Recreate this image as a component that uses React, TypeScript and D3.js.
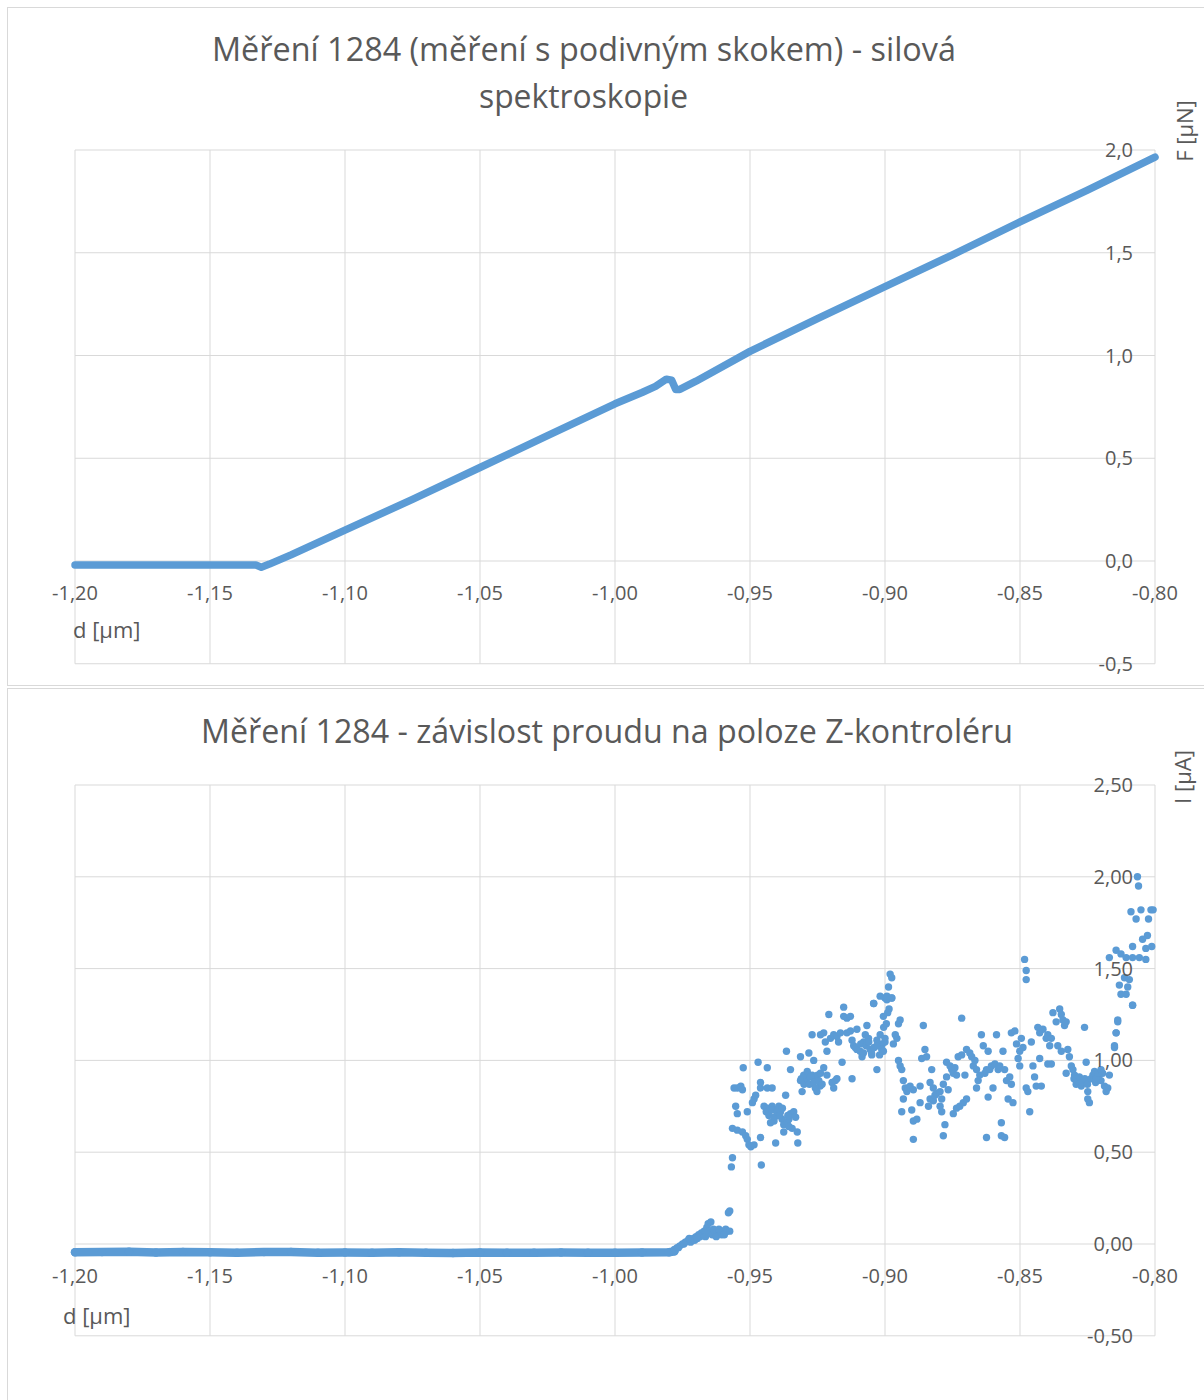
import React from "react";
import * as d3 from "d3";

// ---------- DATA ----------
const xTicks = [-1.2, -1.15, -1.1, -1.05, -1.0, -0.95, -0.9, -0.85, -0.8];
const forceTicks = [-0.5, 0, 0.5, 1.0, 1.5, 2.0];
const currentTicks = [-0.5, 0, 0.5, 1.0, 1.5, 2.0, 2.5];

// Force curve (F [µN] vs d [µm]) — vertices
const forceD = [-1.2, -1.17, -1.15, -1.133, -1.131, -1.128, -1.12, -1.1, -1.075, -1.05, -1.025, -1.0, -0.99, -0.985, -0.981, -0.979, -0.9775, -0.976, -0.97, -0.95, -0.925, -0.9, -0.875, -0.85, -0.825, -0.8];
const forceF = [-0.02, -0.02, -0.02, -0.02, -0.03, -0.015, 0.03, 0.15, 0.3, 0.455, 0.61, 0.765, 0.82, 0.85, 0.885, 0.88, 0.835, 0.835, 0.875, 1.02, 1.18, 1.335, 1.49, 1.65, 1.805, 1.965];

// Current (I [µA]) baseline before contact
const curFlatD = [-1.2, -1.19, -1.18, -1.17, -1.16, -1.15, -1.14, -1.13, -1.12, -1.11, -1.1, -1.09, -1.08, -1.07, -1.06, -1.05, -1.04, -1.03, -1.02, -1.01, -1.0, -0.99, -0.98, -0.978];
const curFlatI = [-0.045, -0.044, -0.042, -0.046, -0.043, -0.045, -0.048, -0.044, -0.043, -0.047, -0.046, -0.048, -0.045, -0.047, -0.049, -0.046, -0.048, -0.047, -0.046, -0.048, -0.047, -0.046, -0.045, -0.04];

// Current scatter after contact [d, I]
const curPoints: [number, number][] = [
  [-0.978, -0.03], [-0.977, -0.02], [-0.976, -0.01], [-0.975, 0.0], [-0.974, 0.01], [-0.973, 0.02], [-0.972, 0.01],
  [-0.971, 0.03], [-0.97, 0.04], [-0.969, 0.05], [-0.968, 0.06], [-0.967, 0.07], [-0.966, 0.09], [-0.9655, 0.11],
  [-0.965, 0.07], [-0.964, 0.05], [-0.963, 0.06], [-0.962, 0.05], [-0.961, 0.06], [-0.96, 0.07], [-0.959, 0.08],
  [-0.9585, 0.07], [-0.958, 0.17], [-0.9575, 0.18], [-0.9645, 0.12], [-0.9625, 0.04], [-0.9605, 0.05],
  [-0.9765, -0.02], [-0.9745, 0.0], [-0.9725, 0.03], [-0.9705, 0.02], [-0.9685, 0.04], [-0.9665, 0.06], [-0.9635, 0.08],
  [-0.9615, 0.08], [-0.9595, 0.05], [-0.9575, 0.07], [-0.9665, 0.04], [-0.9695, 0.03],
  [-0.9569, 0.42], [-0.9565, 0.47], [-0.9565, 0.63], [-0.9547, 0.62], [-0.9528, 0.61], [-0.9516, 0.59], [-0.951, 0.57],
  [-0.9504, 0.54], [-0.9497, 0.53], [-0.9485, 0.54], [-0.9559, 0.85], [-0.9547, 0.85], [-0.9534, 0.86], [-0.9528, 0.84],
  [-0.9525, 0.96], [-0.947, 0.99], [-0.9436, 0.96], [-0.9553, 0.75], [-0.9547, 0.71], [-0.951, 0.72], [-0.9491, 0.77],
  [-0.9485, 0.79], [-0.9479, 0.81], [-0.9461, 0.58], [-0.9458, 0.43], [-0.9405, 0.55], [-0.9461, 0.85], [-0.9436, 0.85],
  [-0.9418, 0.85], [-0.9461, 0.88], [-0.9448, 0.75], [-0.9436, 0.74], [-0.9418, 0.75], [-0.9405, 0.73], [-0.9393, 0.75],
  [-0.9387, 0.72], [-0.9399, 0.7], [-0.9411, 0.67], [-0.9424, 0.66], [-0.9381, 0.68], [-0.9375, 0.65], [-0.9362, 0.66],
  [-0.9356, 0.68], [-0.935, 0.71], [-0.9338, 0.72], [-0.9331, 0.69], [-0.9325, 0.61], [-0.9323, 0.55], [-0.9368, 0.81],
  [-0.9365, 1.05], [-0.935, 0.95], [-0.9344, 0.63], [-0.9356, 0.64], [-0.9375, 0.61], [-0.9313, 1.02], [-0.9282, 1.04],
  [-0.944, 0.72], [-0.943, 0.7], [-0.942, 0.73], [-0.941, 0.69], [-0.94, 0.72], [-0.939, 0.7], [-0.938, 0.74], [-0.936, 0.7],
  [-0.931, 0.9], [-0.93, 0.87], [-0.929, 0.9], [-0.928, 0.87], [-0.927, 0.92], [-0.926, 0.9], [-0.925, 0.92], [-0.924, 0.86],
  [-0.9264, 1.0], [-0.9313, 0.89], [-0.9307, 0.83], [-0.9301, 0.92], [-0.9288, 0.94], [-0.9276, 0.91], [-0.9264, 0.88],
  [-0.9258, 0.85], [-0.9252, 0.83], [-0.9245, 0.89], [-0.9239, 0.93], [-0.9227, 0.96], [-0.9233, 0.87], [-0.9215, 0.92],
  [-0.9196, 0.88], [-0.919, 0.85], [-0.9184, 0.89], [-0.9178, 0.9], [-0.9159, 0.99], [-0.9122, 0.9], [-0.927, 1.14],
  [-0.9239, 1.14], [-0.9227, 1.15], [-0.9208, 1.25], [-0.9221, 1.1], [-0.9215, 1.05], [-0.9202, 1.12], [-0.919, 1.14],
  [-0.9178, 1.13], [-0.9172, 1.1], [-0.9165, 1.15], [-0.9153, 1.29], [-0.9153, 1.24], [-0.9141, 1.23], [-0.9128, 1.24],
  [-0.9141, 1.15], [-0.9128, 1.16], [-0.9122, 1.11], [-0.9116, 1.08], [-0.9104, 1.17], [-0.9104, 1.06], [-0.9092, 1.05],
  [-0.9085, 1.02], [-0.9079, 1.1], [-0.9073, 1.14], [-0.9067, 1.19], [-0.9061, 1.12], [-0.9055, 1.06], [-0.9049, 1.03],
  [-0.911, 1.07], [-0.909, 1.09], [-0.908, 1.04], [-0.907, 1.08], [-0.906, 1.1], [-0.905, 1.04], [-0.904, 1.07],
  [-0.903, 1.11], [-0.902, 1.03], [-0.901, 1.09], [-0.9, 1.1], [-0.9, 1.12], [-0.9005, 1.18], [-0.8995, 1.2],
  [-0.899, 1.26], [-0.8985, 1.28],
  [-0.9042, 1.31], [-0.903, 0.95], [-0.903, 1.08], [-0.9018, 1.14], [-0.9012, 1.06], [-0.9006, 1.05], [-0.9006, 1.24],
  [-0.9, 1.34], [-0.8993, 1.33], [-0.8975, 1.34], [-0.8969, 1.09], [-0.8956, 1.12], [-0.895, 1.2], [-0.8944, 1.22],
  [-0.8962, 1.14], [-0.895, 1.0], [-0.8944, 0.97], [-0.8938, 0.95], [-0.8932, 0.89], [-0.8925, 0.85], [-0.8919, 0.83],
  [-0.8913, 0.85], [-0.8907, 0.86], [-0.8895, 0.84], [-0.8932, 0.79], [-0.8938, 0.72], [-0.8901, 0.73], [-0.8895, 0.67],
  [-0.8882, 0.68], [-0.8895, 0.57], [-0.887, 0.77], [-0.887, 0.86], [-0.8864, 1.01], [-0.8858, 1.19], [-0.8852, 1.06],
  [-0.8846, 1.02], [-0.8833, 0.88], [-0.8827, 0.95], [-0.8821, 0.85], [-0.8839, 0.75], [-0.8833, 0.79], [-0.8821, 0.78],
  [-0.8815, 0.81], [-0.8809, 0.82], [-0.8796, 0.83], [-0.879, 0.79], [-0.879, 0.72], [-0.8796, 0.75], [-0.8784, 0.59],
  [-0.8778, 0.65], [-0.8784, 0.87], [-0.8766, 0.84], [-0.8772, 0.91], [-0.8772, 0.99], [-0.8759, 0.97], [-0.8753, 0.95],
  [-0.8747, 0.93], [-0.8741, 0.96], [-0.8735, 0.92], [-0.8747, 0.71], [-0.8735, 0.74], [-0.8723, 0.75], [-0.871, 0.77],
  [-0.8698, 0.79], [-0.8716, 1.23], [-0.8729, 1.02], [-0.8716, 1.03], [-0.8704, 0.92], [-0.8698, 1.06], [-0.8686, 1.04],
  [-0.8679, 1.02], [-0.8673, 0.97], [-0.8667, 1.0], [-0.8661, 0.95], [-0.8661, 0.85], [-0.8655, 0.89], [-0.8649, 0.92],
  [-0.8643, 1.14], [-0.8636, 1.08], [-0.863, 0.93], [-0.8624, 0.95], [-0.8618, 0.8], [-0.8612, 0.95], [-0.8624, 0.58],
  [-0.8618, 1.05], [-0.8606, 0.97], [-0.86, 0.85], [-0.8593, 0.98], [-0.8587, 1.14], [-0.8581, 0.95], [-0.8575, 0.97],
  [-0.8569, 0.66], [-0.8569, 0.59], [-0.8557, 0.58], [-0.8563, 1.05], [-0.8557, 0.95], [-0.855, 0.89], [-0.8544, 0.79],
  [-0.8538, 0.91], [-0.8532, 0.87], [-0.8526, 0.77], [-0.8532, 1.15], [-0.8519, 1.16], [-0.8513, 1.09], [-0.8507, 1.01],
  [-0.8501, 1.05], [-0.8501, 0.97], [-0.8495, 1.12], [-0.8489, 1.07], [-0.8477, 0.85], [-0.8471, 0.83], [-0.8464, 0.72],
  [-0.8458, 1.1], [-0.8452, 0.97], [-0.8446, 0.91], [-0.844, 0.86], [-0.8427, 1.01], [-0.8421, 0.86], [-0.8434, 1.18],
  [-0.8427, 1.15], [-0.8415, 1.17], [-0.8403, 1.12], [-0.8397, 1.14], [-0.839, 1.08], [-0.8384, 1.12], [-0.8397, 0.98],
  [-0.8384, 0.98], [-0.8378, 1.26], [-0.8366, 1.21], [-0.8353, 1.28], [-0.8347, 1.25], [-0.8341, 1.22], [-0.8335, 1.19],
  [-0.8329, 1.21], [-0.836, 1.08], [-0.8347, 1.05], [-0.8329, 0.93], [-0.8323, 1.06], [-0.8317, 1.02], [-0.831, 0.97],
  [-0.8304, 0.95], [-0.8298, 0.92], [-0.8292, 0.87], [-0.8286, 0.89], [-0.8273, 0.86], [-0.8261, 1.18], [-0.8255, 0.99],
  [-0.83, 0.9], [-0.828, 0.91], [-0.827, 0.88], [-0.826, 0.9], [-0.825, 0.87], [-0.822, 0.88], [-0.821, 0.91], [-0.82, 0.89],
  [-0.8249, 0.83], [-0.8249, 0.79], [-0.8243, 0.77], [-0.8237, 0.9], [-0.823, 0.92], [-0.8224, 0.94], [-0.8218, 0.9],
  [-0.8212, 0.93], [-0.82, 0.95], [-0.8194, 0.93], [-0.8187, 0.86], [-0.8181, 0.83], [-0.8175, 0.85], [-0.8169, 0.92],
  [-0.815, 1.07], [-0.8144, 1.15], [-0.8138, 1.22], [-0.8083, 1.3],
  [-0.8981, 1.47], [-0.8975, 1.45], [-0.8987, 1.4], [-0.8993, 1.35], [-0.9018, 1.35], [-0.8975, 1.34], [-0.9042, 1.31],
  [-0.8483, 1.55], [-0.8477, 1.49], [-0.8477, 1.44],
  [-0.8065, 2.0], [-0.8061, 1.95], [-0.8089, 1.81], [-0.807, 1.77], [-0.8052, 1.82], [-0.8024, 1.77], [-0.8015, 1.82],
  [-0.8007, 1.82], [-0.8028, 1.68], [-0.8046, 1.66], [-0.8083, 1.62], [-0.8034, 1.61], [-0.8012, 1.62], [-0.8169, 1.56],
  [-0.8144, 1.6], [-0.8126, 1.58], [-0.8107, 1.56], [-0.8083, 1.56], [-0.8058, 1.56], [-0.8034, 1.55], [-0.8132, 1.41],
  [-0.8113, 1.45], [-0.8095, 1.44], [-0.8101, 1.4], [-0.8126, 1.36], [-0.8107, 1.36], [-0.8083, 1.3], [-0.8138, 1.21],
  [-0.8144, 1.15], [-0.815, 1.08],
];

// ---------- STYLE ----------
const BLUE = "#5b9bd5";
const GRID = "#d9d9d9";
const TEXT = "#595959";
const FONT = "'Open Sans', 'Noto Sans', sans-serif";

const locale = d3.formatLocale({ decimal: ",", thousands: " ", grouping: [3], currency: ["", ""], minus: "-" });
const fmt2 = locale.format(".2f");
const fmt1 = locale.format(".1f");

const L = 75, R = 1155;
const x = d3.scaleLinear().domain([-1.2, -0.8]).range([L, R]);
const yF = d3.scaleLinear().domain([-0.5, 2.0]).range([663.75, 150]);
const yI = d3.scaleLinear().domain([-0.5, 2.5]).range([1335.8, 785]);

function Grid({ y, ticks }: { y: d3.ScaleLinear<number, number>; ticks: number[] }) {
  const [y0, y1] = [y(ticks[0]), y(ticks[ticks.length - 1])];
  return (
    <g>
      {ticks.map((t) => (
        <line key={"h" + t} x1={L} x2={R} y1={y(t)} y2={y(t)} stroke={GRID} strokeWidth={1} />
      ))}
      {xTicks.map((t) => (
        <line key={"v" + t} x1={x(t)} x2={x(t)} y1={y0} y2={y1} stroke={GRID} strokeWidth={1} />
      ))}
    </g>
  );
}

function Labels({ y, ticks, f }: { y: d3.ScaleLinear<number, number>; ticks: number[]; f: (n: number) => string }) {
  const base = y(0) + 39;
  return (
    <g fill={TEXT} fontFamily={FONT} fontSize={20}>
      {xTicks.map((t) => (
        <text key={"x" + t} x={x(t)} y={base} textAnchor="middle">{fmt2(t)}</text>
      ))}
      {ticks.map((t) => (
        <text key={"y" + t} x={1133} y={y(t) + 7} textAnchor="end">{f(t)}</text>
      ))}
    </g>
  );
}

export default function App() {
  const forceLine = d3.line<number>().x((_, i) => x(forceD[i])).y((d) => yF(d));
  const flatLine = d3.line<number>().x((_, i) => x(curFlatD[i])).y((d) => yI(d));
  return (
    <svg width={1204} height={1400} style={{ position: "absolute", left: 0, top: 0, background: "#fff" }}>
      <rect x={0} y={0} width={1204} height={1400} fill="#fff" />
      {/* frames */}
      <rect x={7.5} y={7.5} width={1210} height={678} fill="none" stroke={GRID} />
      <rect x={7.5} y={688.5} width={1210} height={730} fill="none" stroke={GRID} />

      {/* ---- Top chart ---- */}
      <g fill={TEXT} fontFamily={FONT} fontSize={33}>
        <text x={584} y={61} textAnchor="middle" textLength={744} lengthAdjust="spacingAndGlyphs">
          Měření 1284 (měření s podivným skokem) - silová
        </text>
        <text x={583.5} y={108} textAnchor="middle" textLength={209} lengthAdjust="spacingAndGlyphs">
          spektroskopie
        </text>
      </g>
      <Grid y={yF} ticks={forceTicks} />
      <path d={forceLine(forceF) || ""} fill="none" stroke={BLUE} strokeWidth={7.5} strokeLinejoin="round" strokeLinecap="round" />
      <Labels y={yF} ticks={forceTicks} f={fmt1} />
      <text x={73} y={638} fill={TEXT} fontFamily={FONT} fontSize={22}>d [µm]</text>
      <text transform="translate(1193,131) rotate(-90)" textAnchor="middle" fill={TEXT} fontFamily={FONT} fontSize={22}>F [µN]</text>

      {/* ---- Bottom chart ---- */}
      <text x={607} y={743} textAnchor="middle" fill={TEXT} fontFamily={FONT} fontSize={33} textLength={812} lengthAdjust="spacingAndGlyphs">
        Měření 1284 - závislost proudu na poloze Z-kontroléru
      </text>
      <Grid y={yI} ticks={currentTicks} />
      <path d={flatLine(curFlatI) || ""} fill="none" stroke={BLUE} strokeWidth={8.5} strokeLinejoin="round" strokeLinecap="round" />
      {curFlatI.map((v, i) => (
        <circle key={"f" + i} cx={x(curFlatD[i])} cy={yI(v)} r={4.2} fill={BLUE} />
      ))}
      {curPoints.map(([d, v], i) => (
        <circle key={"p" + i} cx={x(d)} cy={yI(v)} r={3.7} fill={BLUE} />
      ))}
      <Labels y={yI} ticks={currentTicks} f={fmt2} />
      <text x={63} y={1324} fill={TEXT} fontFamily={FONT} fontSize={22}>d [µm]</text>
      <text transform="translate(1191,777) rotate(-90)" textAnchor="middle" fill={TEXT} fontFamily={FONT} fontSize={22}>I [µA]</text>
    </svg>
  );
}
